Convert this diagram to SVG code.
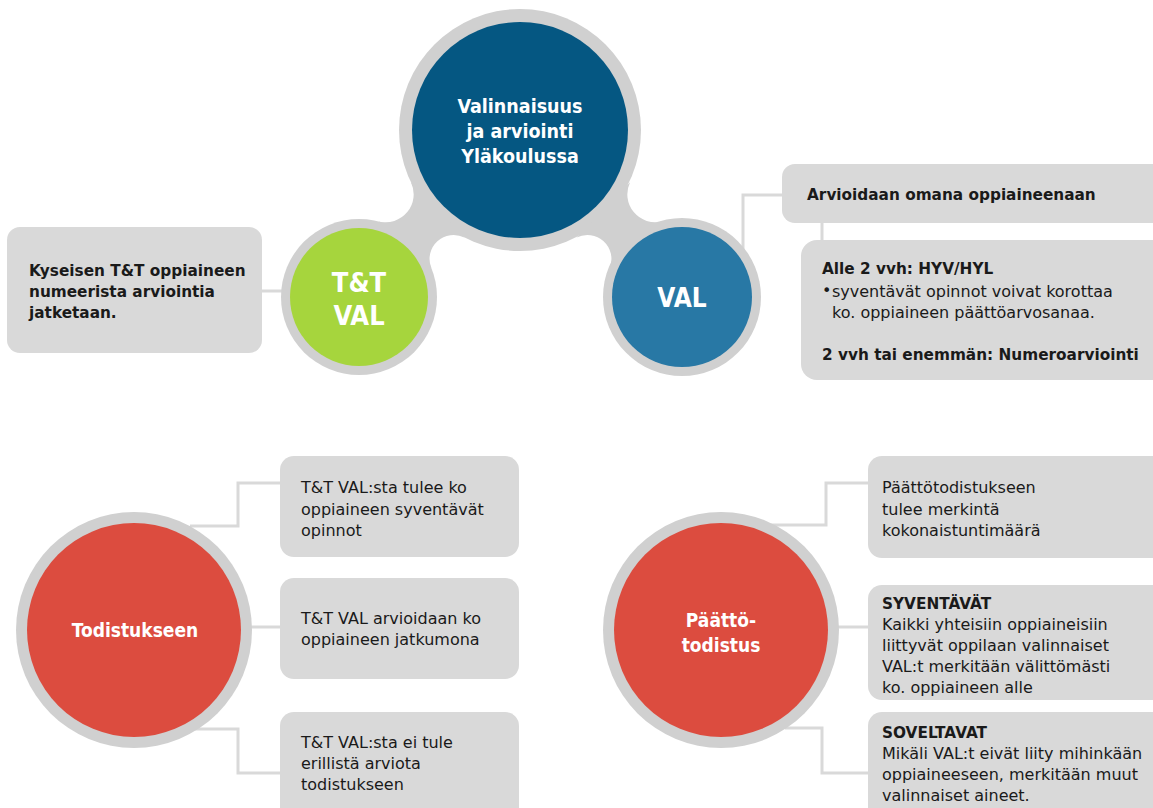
<svg xmlns="http://www.w3.org/2000/svg" width="1153" height="808" viewBox="0 0 1153 808">
<style>
.ring{fill:#d0d0d0}
.box{fill:#d9d9d9}
.con{fill:none;stroke:#d9d9d9;stroke-width:3}
.ct{font-family:"DejaVu Sans Condensed","DejaVu Sans",sans-serif;font-weight:bold;fill:#ffffff;text-anchor:middle}
.t{font-family:"DejaVu Sans",sans-serif;font-size:16px;fill:#1a1a1a}
.b{font-family:"DejaVu Sans",sans-serif;font-size:15.3px;font-weight:bold;fill:#1a1a1a}
</style>
<rect width="1153" height="808" fill="#ffffff"/>
<g id="connectors">
<path class="con" d="M262,291 H285"/>
<path class="con" d="M743,252 V195 H785"/>
<path class="con" d="M822,220 V243"/>
<path class="con" d="M190,526 H238 V483 H282"/>
<path class="con" d="M240,627 H282"/>
<path class="con" d="M195,729 H238 V773 H282"/>
<path class="con" d="M770,525 H826 V483 H870"/>
<path class="con" d="M830,627 H870"/>
<path class="con" d="M785,728 H822 V773 H870"/>
</g>
<g id="hub-shape">
<circle class="ring" cx="520" cy="130" r="121"/>
<circle class="ring" cx="359" cy="297" r="78"/>
<circle class="ring" cx="682" cy="297" r="79"/>
<path class="ring" d="M410.9,182.2 A28,28 0 0,1 378.6,221.4 L431.3,267.9 A24,24 0 0,1 464.5,237.6 Z"/>
<path class="ring" d="M630.1,182.2 A28,28 0 0,0 662.4,221.4 L609.7,267.9 A24,24 0 0,0 576.5,237.6 Z"/>
</g>
<g id="main">
<circle cx="520" cy="130" r="108" fill="#055782"/>
<text class="ct" font-size="19.5" x="520" y="113">Valinnaisuus</text>
<text class="ct" font-size="19.5" x="520" y="138">ja arviointi</text>
<text class="ct" font-size="19.5" x="520" y="163">Yläkoulussa</text>
</g>
<g id="ttval">
<circle cx="359" cy="297" r="69" fill="#a6d53d"/>
<text class="ct" font-size="27" x="359" y="292">T&amp;T</text>
<text class="ct" font-size="27" x="359" y="325">VAL</text>
</g>
<g id="val">
<circle cx="682" cy="297" r="70" fill="#2878a5"/>
<text class="ct" font-size="26" x="682" y="307">VAL</text>
</g>
<g id="box-ttval">
<rect class="box" x="7" y="227" width="255" height="126" rx="13"/>
<text class="b" x="29" y="276">Kyseisen T&amp;T oppiaineen</text>
<text class="b" x="29" y="297">numeerista arviointia</text>
<text class="b" x="29" y="318">jatketaan.</text>
</g>
<g id="box-val1">
<rect class="box" x="782" y="164" width="400" height="59" rx="13"/>
<text class="b" font-size="14.5" x="807" y="200">Arvioidaan omana oppiaineenaan</text>
</g>
<g id="box-val2">
<rect class="box" x="801" y="240" width="380" height="140" rx="16"/>
<text class="b" x="822" y="274">Alle 2 vvh: HYV/HYL</text>
<text class="t" font-size="12" x="822" y="296">•</text>
<text class="t" x="832" y="297">syventävät opinnot voivat korottaa</text>
<text class="t" x="832" y="318">ko. oppiaineen päättöarvosanaa.</text>
<text class="b" x="822" y="360">2 vvh tai enemmän: Numeroarviointi</text>
</g>
<g id="todistukseen">
<circle class="ring" cx="134" cy="630" r="118"/>
<circle cx="134" cy="630" r="107" fill="#dc4c3f"/>
<text class="ct" font-size="19" x="135" y="637">Todistukseen</text>
</g>
<g id="box-t1">
<rect class="box" x="280" y="456" width="239" height="101" rx="14"/>
<text class="t" x="301" y="493">T&amp;T VAL:sta tulee ko</text>
<text class="t" x="301" y="515">oppiaineen syventävät</text>
<text class="t" x="301" y="536">opinnot</text>
</g>
<g id="box-t2">
<rect class="box" x="280" y="578" width="239" height="101" rx="14"/>
<text class="t" x="301" y="624">T&amp;T VAL arvioidaan ko</text>
<text class="t" x="301" y="645">oppiaineen jatkumona</text>
</g>
<g id="box-t3">
<rect class="box" x="280" y="712" width="239" height="110" rx="14"/>
<text class="t" x="301" y="748">T&amp;T VAL:sta ei tule</text>
<text class="t" x="301" y="769">erillistä arviota</text>
<text class="t" x="301" y="790">todistukseen</text>
</g>
<g id="paattotodistus">
<circle class="ring" cx="721" cy="630" r="118"/>
<circle cx="721" cy="630" r="107" fill="#dc4c3f"/>
<text class="ct" font-size="19" x="721" y="627">Päättö-</text>
<text class="ct" font-size="19" x="721" y="652">todistus</text>
</g>
<g id="box-p1">
<rect class="box" x="868" y="456" width="300" height="102" rx="14"/>
<text class="t" x="882" y="493">Päättötodistukseen</text>
<text class="t" x="882" y="515">tulee merkintä</text>
<text class="t" x="882" y="536">kokonaistuntimäärä</text>
</g>
<g id="box-p2">
<rect class="box" x="868" y="585" width="300" height="115" rx="14"/>
<text class="b" x="882" y="609">SYVENTÄVÄT</text>
<text class="t" x="882" y="630">Kaikki yhteisiin oppiaineisiin</text>
<text class="t" x="882" y="651">liittyvät oppilaan valinnaiset</text>
<text class="t" x="882" y="672">VAL:t merkitään välittömästi</text>
<text class="t" x="882" y="693">ko. oppiaineen alle</text>
</g>
<g id="box-p3">
<rect class="box" x="868" y="712" width="300" height="110" rx="14"/>
<text class="b" x="882" y="738">SOVELTAVAT</text>
<text class="t" x="882" y="759">Mikäli VAL:t eivät liity mihinkään</text>
<text class="t" x="882" y="780">oppiaineeseen, merkitään muut</text>
<text class="t" x="882" y="801">valinnaiset aineet.</text>
</g>
</svg>
